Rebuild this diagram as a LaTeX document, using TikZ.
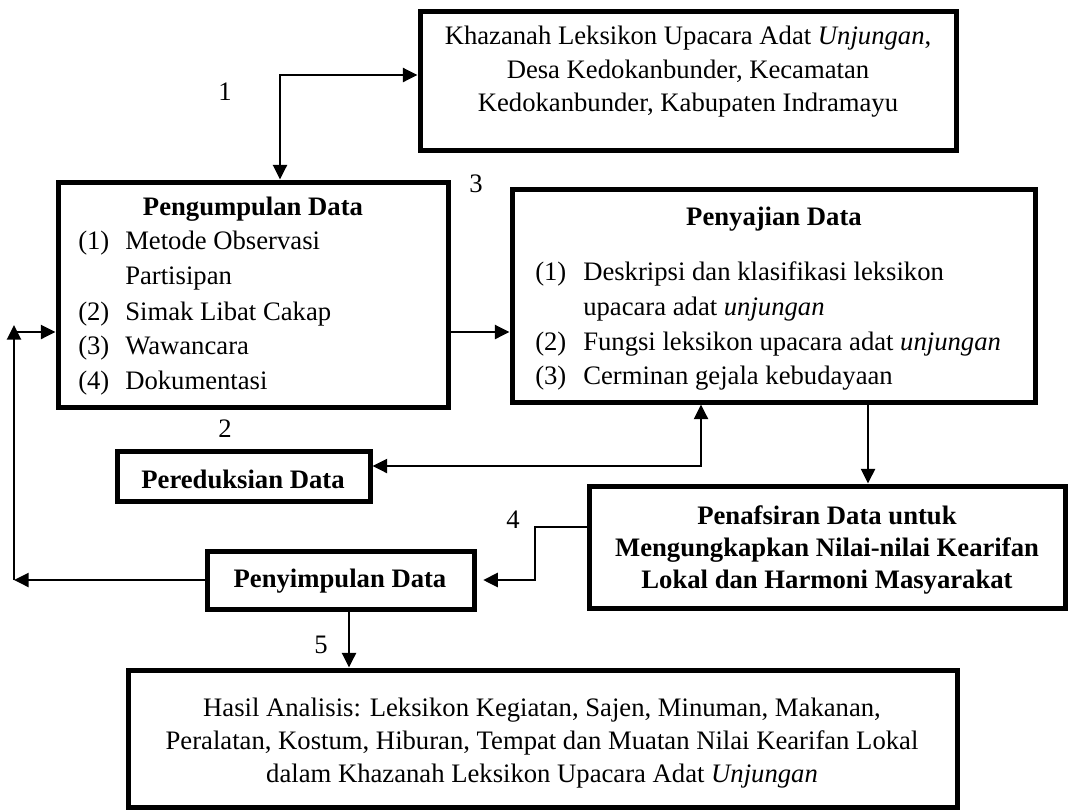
\documentclass[tikz,border=0pt]{standalone}
\usepackage{fontspec}
\setmainfont{Liberation Serif}
\usetikzlibrary{arrows.meta,fit}
\begin{document}
\begin{tikzpicture}[x=0.75pt,y=-0.75pt,
  box/.style={draw, line width=3.75pt, inner sep=0pt},
  conn/.style={line width=1.8pt},
  tip/.style={-{Triangle[length=11pt,width=10.5pt]}},
  tips/.style={{Triangle[length=11pt,width=10.5pt]}-{Triangle[length=11pt,width=10.5pt]}},
  txt/.style={inner sep=0pt, font=\fontsize{20}{24}\selectfont},
  btxt/.style={inner sep=0pt, font=\fontsize{20}{24}\selectfont\bfseries},
  lt/.style={txt, anchor=base west},
  ct/.style={txt, anchor=base},
  cb/.style={btxt, anchor=base}
]
\useasboundingbox (0,0) rectangle (1069,810);

% boxes
\node[box, fit={(420,11) (956,150)}] (khz) {};
\node[box, fit={(58,182) (448,407)}] (pg) {};
\node[box, fit={(512,189) (1035,402)}] (pj) {};
\node[box, fit={(117,451) (370,501)}] (pr) {};
\node[box, fit={(589,486) (1065,608)}] (pf) {};
\node[box, fit={(207,551) (474,609)}] (ps) {};
\node[box, fit={(128,670) (957,807)}] (hs) {};

% Khazanah text
\node[ct] (khz1) at (688,44) {Khazanah Leksikon Upacara Adat \textit{Unjungan},};
\node[ct] (khz2) at (688,78) {Desa Kedokanbunder, Kecamatan};
\node[ct] (khz3) at (688,111) {Kedokanbunder, Kabupaten Indramayu};

% Pengumpulan text
\node[cb] (pgt) at (253,215) {Pengumpulan Data};
\node[lt] (pgn1) at (78,249) {(1)};
\node[lt] (pgi1) at (125,249) {Metode Observasi};
\node[lt] (pgi1b) at (125,284) {Partisipan};
\node[lt] (pgn2) at (78,320) {(2)};
\node[lt] (pgi2) at (125,320) {Simak Libat Cakap};
\node[lt] (pgn3) at (78,354) {(3)};
\node[lt] (pgi3) at (125,354) {Wawancara};
\node[lt] (pgn4) at (78,389) {(4)};
\node[lt] (pgi4) at (125,389) {Dokumentasi};

% Penyajian text
\node[cb] (pjt) at (774,225) {Penyajian Data};
\node[lt] (pjn1) at (535,280) {(1)};
\node[lt] (pji1) at (583,280) {Deskripsi dan klasifikasi leksikon};
\node[lt] (pji1b) at (583,315) {upacara adat \textit{unjungan}};
\node[lt] (pjn2) at (535,350) {(2)};
\node[lt] (pji2) at (583,350) {Fungsi leksikon upacara adat \textit{unjungan}};
\node[lt] (pjn3) at (535,384) {(3)};
\node[lt] (pji3) at (583,384) {Cerminan gejala kebudayaan};

% Pereduksian
\node[cb] (prt) at (243,488) {Pereduksian Data};

% Penafsiran
\node[cb] (pf1) at (827,524) {Penafsiran Data untuk};
\node[cb] (pf2) at (827,556) {Mengungkapkan Nilai-nilai Kearifan};
\node[cb] (pf3) at (827,588) {Lokal dan Harmoni Masyarakat};

% Penyimpulan
\node[cb] (pst) at (340,587) {Penyimpulan Data};

% Hasil
\node[ct] (hs1) at (542,716) {Hasil Analisis: Leksikon Kegiatan, Sajen, Minuman, Makanan,};
\node[ct] (hs2) at (542,749) {Peralatan, Kostum, Hiburan, Tempat dan Muatan Nilai Kearifan Lokal};
\node[ct] (hs3) at (542,782) {dalam Khazanah Leksikon Upacara Adat \textit{Unjungan}};

% step labels
\node[ct] (l1) at (225,100) {1};
\node[ct] (l2) at (225,437) {2};
\node[ct] (l3) at (476,192) {3};
\node[ct] (l4) at (513,528) {4};
\node[ct] (l5) at (321,653) {5};

% connectors
\coordinate (k1) at (280,75);
\draw[conn,tips] (pg.north -| k1) -- (k1) -- (k1 -| khz.west);

\coordinate (k2) at (450,332);
\draw[conn,tip] (k2 -| pg.east) -- (k2 -| pj.west);

\coordinate (k3) at (701,466);
\draw[conn,tips] (pj.south -| k3) -- (k3) -- (k3 -| pr.east);

\coordinate (k4) at (868,450);
\draw[conn,tip] (pj.south -| k4) -- (pf.north -| k4);

\coordinate (k5a) at (535,527);
\coordinate (k5b) at (535,580);
\draw[conn,tip,shorten >=5pt] (k5a -| pf.west) -- (k5a) -- (k5b) -- (k5b -| ps.east);

\coordinate (k6) at (14,580);
\coordinate (k7) at (14,325);
\coordinate (k8) at (14,332);
\draw[conn,tip] (ps.west) -- (k6);
\draw[conn,tip] (k6) -- (k7);
\draw[conn,tip] (k8) -- (k8 -| pg.west);

\coordinate (k9) at (349,640);
\draw[conn,tip] (ps.south -| k9) -- (hs.north -| k9);
\end{tikzpicture}
\end{document}
